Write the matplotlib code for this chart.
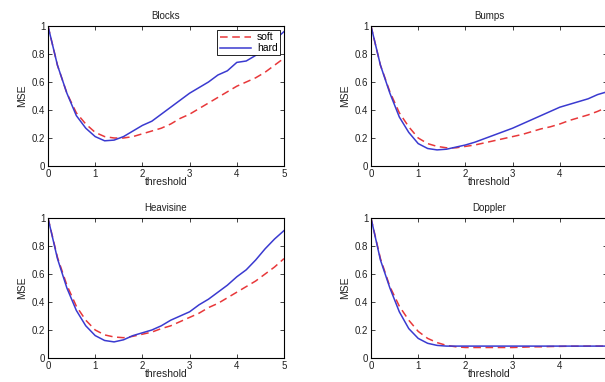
"""
MSE vs threshold for soft / hard thresholding on four test signals
"""
import matplotlib
matplotlib.use('Agg')
import matplotlib.pyplot as plt

threshold = [0.0, 0.2, 0.4, 0.6, 0.8, 1.0, 1.2, 1.4, 1.6, 1.8, 2.0, 2.2, 2.4,
             2.6, 2.8, 3.0, 3.2, 3.4, 3.6, 3.8, 4.0, 4.2, 4.4, 4.6, 4.8, 5.0]

blocks_soft = [1.0, 0.72, 0.52, 0.38, 0.30, 0.24, 0.21, 0.20, 0.20, 0.21, 0.23, 0.25, 0.27,
               0.30, 0.34, 0.37, 0.41, 0.45, 0.49, 0.53, 0.57, 0.60, 0.63, 0.67, 0.72, 0.77]
blocks_hard = [1.0, 0.72, 0.52, 0.36, 0.27, 0.21, 0.18, 0.185, 0.21, 0.25, 0.29, 0.32, 0.37,
               0.42, 0.47, 0.52, 0.56, 0.60, 0.65, 0.68, 0.74, 0.75, 0.79, 0.84, 0.90, 0.96]

bumps_soft = [1.0, 0.72, 0.53, 0.38, 0.28, 0.20, 0.16, 0.14, 0.13, 0.13, 0.14, 0.15, 0.165,
              0.18, 0.195, 0.21, 0.225, 0.245, 0.265, 0.28, 0.30, 0.325, 0.345, 0.365, 0.39, 0.42]
bumps_hard = [1.0, 0.72, 0.52, 0.35, 0.24, 0.16, 0.125, 0.115, 0.12, 0.135, 0.15, 0.17, 0.195,
              0.22, 0.245, 0.27, 0.30, 0.33, 0.36, 0.39, 0.42, 0.44, 0.46, 0.48, 0.51, 0.53]

heavisine_soft = [1.0, 0.72, 0.52, 0.37, 0.27, 0.20, 0.165, 0.15, 0.145, 0.155, 0.17, 0.185, 0.21,
                  0.23, 0.26, 0.29, 0.32, 0.36, 0.39, 0.43, 0.47, 0.51, 0.55, 0.60, 0.65, 0.71]
heavisine_hard = [1.0, 0.71, 0.50, 0.34, 0.23, 0.16, 0.125, 0.115, 0.13, 0.16, 0.18, 0.20, 0.23,
                  0.27, 0.30, 0.33, 0.38, 0.42, 0.47, 0.52, 0.58, 0.63, 0.70, 0.78, 0.85, 0.91]

doppler_soft = [1.0, 0.71, 0.51, 0.37, 0.27, 0.19, 0.14, 0.11, 0.09, 0.08, 0.075, 0.075, 0.075,
                0.075, 0.075, 0.075, 0.077, 0.08, 0.08, 0.082, 0.083, 0.084, 0.084, 0.085, 0.085, 0.085]
doppler_hard = [1.0, 0.70, 0.50, 0.33, 0.21, 0.14, 0.105, 0.09, 0.085, 0.085, 0.085, 0.085, 0.085,
                0.085, 0.085, 0.085, 0.085, 0.085, 0.085, 0.085, 0.085, 0.085, 0.085, 0.085, 0.085, 0.085]

titles = ['Blocks', 'Bumps', 'Heavisine', 'Doppler']
soft_series = [blocks_soft, bumps_soft, heavisine_soft, doppler_soft]
hard_series = [blocks_hard, bumps_hard, heavisine_hard, doppler_hard]

W, H = 605.0, 382.0
# axes boxes in pixels: left, top, right, bottom (right column runs off the page, as in the scan)
boxes = [(48, 26, 284, 166), (371, 26, 607, 166),
         (48, 218, 284, 358), (371, 218, 607, 358)]

plt.rcParams['font.family'] = ['Liberation Sans', 'DejaVu Sans']
plt.rcParams['font.size'] = 7

fig = plt.figure(figsize=(W / 100, H / 100), dpi=100)

for (l, t, r, b), title, soft, hard in zip(boxes, titles, soft_series, hard_series):
    ax = fig.add_axes([l / W, 1 - b / H, (r - l) / W, (b - t) / H])
    ax.plot(threshold, soft, color='#e8383a', linestyle=(0, (5, 3)), linewidth=1.1, label='soft')
    ax.plot(threshold, hard, color='#3a3ad0', linestyle='solid', linewidth=1.1, label='hard')
    ax.set_xlim(0, 5)
    ax.set_ylim(0, 1)
    ax.set_xticks([0, 1, 2, 3, 4, 5])
    ax.set_yticks([0, 0.2, 0.4, 0.6, 0.8, 1])
    ax.set_yticklabels(['0', '0.2', '0.4', '0.6', '0.8', '1'])
    ax.tick_params(direction='in', top=True, right=True, length=3, width=0.6,
                   labelsize=7, pad=2, colors='#222222')
    for s in ax.spines.values():
        s.set_linewidth(0.8)
    ax.set_title(title, fontsize=7, pad=5, color='#222222')
    ax.set_xlabel('threshold', fontsize=7.5, labelpad=-1, color='#222222')
    ax.set_ylabel('MSE', fontsize=7.5, labelpad=3, color='#222222')
    if title == 'Blocks':
        leg = ax.legend(loc='upper right', fontsize=7.5, frameon=True, fancybox=False,
                        framealpha=1, edgecolor='black', borderpad=0.2, handlelength=3.0,
                        labelspacing=0.1, handletextpad=0.6, borderaxespad=0.4)
        leg.get_frame().set_linewidth(0.6)

fig.savefig('out.png', dpi=100)
